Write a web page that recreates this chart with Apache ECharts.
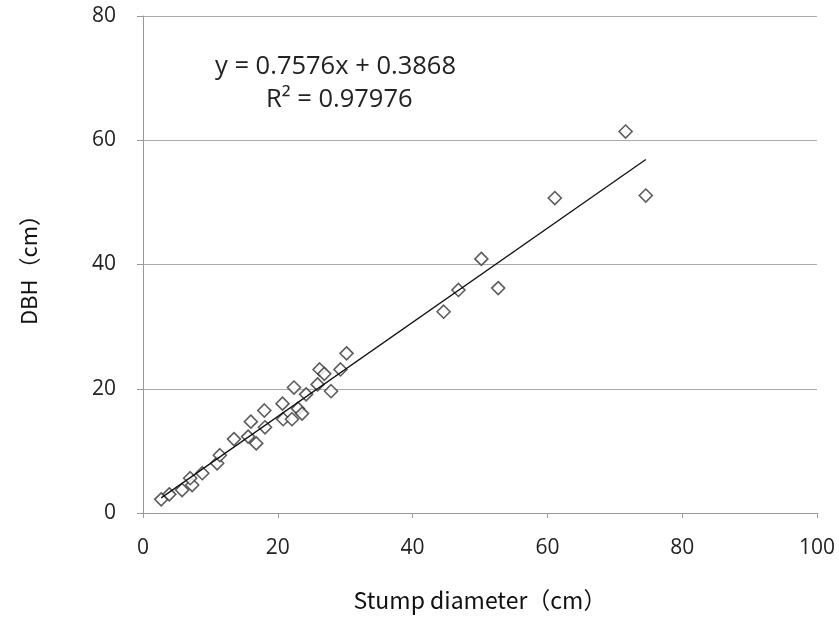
<!DOCTYPE html>
<html>
<head>
<meta charset="utf-8">
<script src="https://cdn.jsdelivr.net/npm/echarts@6/dist/echarts.min.js"></script>
<style>html,body{margin:0;padding:0;background:#fff}#c{width:839px;height:617px}</style>
</head>
<body>
<div id="c"></div>
<script>
var stumpDiameter = [2.7, 3.9, 5.8, 7.3, 7.0, 8.8, 11.0, 11.4, 13.5, 15.6, 16.8, 16.0, 18.0, 18.1, 20.8, 20.7, 22.1, 22.4, 23.0, 23.6, 24.2, 25.9, 26.2, 26.9, 27.9, 29.3, 30.2, 44.6, 46.8, 50.2, 52.7, 61.1, 71.6, 74.6];
var dbh = [2.2, 3.0, 3.7, 4.5, 5.6, 6.4, 8.0, 9.3, 11.9, 12.3, 11.2, 14.7, 16.5, 13.8, 15.1, 17.6, 15.1, 20.2, 16.8, 16.0, 19.1, 20.7, 23.1, 22.4, 19.6, 23.1, 25.7, 32.4, 35.9, 40.9, 36.2, 50.7, 61.4, 51.1];
var slope = 0.7576, intercept = 0.3868;
var xTicks = [0, 20, 40, 60, 80, 100];
var yTicks = [0, 20, 40, 60, 80];

var pts = stumpDiameter.map(function (x, i) { return [x, dbh[i]]; });
var xmin = Math.min.apply(null, stumpDiameter), xmax = Math.max.apply(null, stumpDiameter);
var trend = [[xmin, slope * xmin + intercept], [xmax, slope * xmax + intercept]];

var chart = echarts.init(document.getElementById('c'));
chart.setOption({
  animation: false,
  grid: { left: 143, right: 22, top: 16, bottom: 101 },
  xAxis: {
    type: 'value', min: 0, max: 100, interval: 20,
    name: 'Stump diameter（cm）', nameLocation: 'middle', nameGap: 76,
    nameTextStyle: { fontFamily: 'Noto Sans CJK JP', fontSize: 23, color: '#111', fontWeight: 'normal' },
    axisLine: { show: true, lineStyle: { color: '#999', width: 1 } },
    axisTick: { show: true, length: 5, lineStyle: { color: '#999' } },
    axisLabel: { fontFamily: 'Open Sans', fontSize: 21, color: '#222', margin: 25 },
    splitLine: { show: false }
  },
  yAxis: {
    type: 'value', min: 0, max: 80, interval: 20,
    name: 'DBH（cm）', nameLocation: 'middle', nameGap: 103, nameRotate: 90,
    nameTextStyle: { fontFamily: 'Noto Sans CJK JP', fontSize: 22, color: '#111', fontWeight: 'normal' },
    axisLine: { show: true, lineStyle: { color: '#999', width: 1 } },
    axisTick: { show: true, length: 6, lineStyle: { color: '#999' } },
    axisLabel: { fontFamily: 'Open Sans', fontSize: 21, color: '#222', margin: 27 },
    splitLine: { show: true, lineStyle: { color: '#aaa', width: 1 } }
  },
  graphic: [
    { type: 'text', left: 215, top: 54, style: { text: 'y = 0.7576x + 0.3868', fontFamily: 'Open Sans', fontSize: 25.5, fill: '#222' } },
    { type: 'text', left: 266, top: 87, style: { text: 'R² = 0.97976', fontFamily: 'Open Sans', fontSize: 25.5, fill: '#222' } }
  ],
  series: [
    {
      type: 'line', data: trend, showSymbol: false, symbol: 'none',
      lineStyle: { color: '#111', width: 1.3 }, z: 3
    },
    {
      type: 'scatter', data: pts, symbol: 'diamond', symbolSize: 13,
      itemStyle: { color: '#fff', borderColor: '#333', borderWidth: 1.6 }, z: 2
    }
  ]
});
</script>
</body>
</html>
